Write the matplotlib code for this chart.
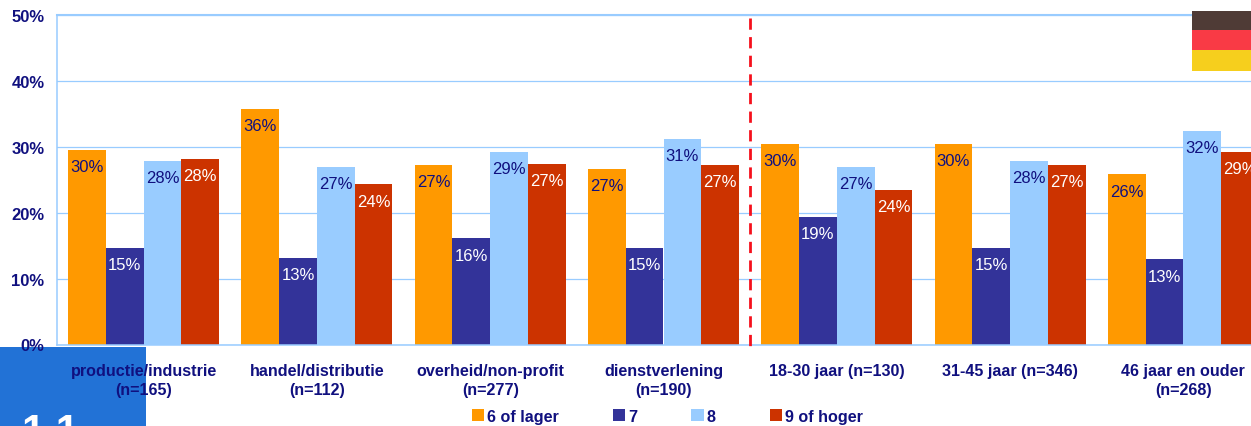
import matplotlib
matplotlib.use('Agg')
import matplotlib.pyplot as plt
from matplotlib.patches import Rectangle
import numpy as np

plt.rcParams['font.family'] = ['Liberation Sans', 'DejaVu Sans']

# Scores per group, in percent
categories = ['productie/industrie\n(n=165)', 'handel/distributie\n(n=112)',
              'overheid/non-profit\n(n=277)', 'dienstverlening\n(n=190)',
              '18-30 jaar (n=130)', '31-45 jaar (n=346)',
              '46 jaar en ouder\n(n=268)']
low = [29.5, 35.7, 27.2, 26.7, 30.4, 30.4, 25.8]
seven = [14.6, 13.2, 16.1, 14.7, 19.3, 14.6, 12.9]
eight = [27.8, 26.9, 29.2, 31.2, 27.0, 27.8, 32.4]
high = [28.1, 24.3, 27.4, 27.2, 23.5, 27.2, 29.2]
series_names = ['6 of lager', '7', '8', '9 of hoger']
y_ticks = [0, 10, 20, 30, 40, 50]

NAVY = '#10107f'
GRID = '#99ccff'
W, H = 1251, 427

fig = plt.figure(figsize=(W / 100, H / 100), dpi=100, facecolor='white')
# the plot area runs a little past the right edge of the slide
ax = fig.add_axes([57 / W, (H - 345.5) / H, 1213 / W, 329.5 / H])

colors = ['#ff9900', '#333399', '#99ccff', '#cc3300']
label_colors = [NAVY, 'white', NAVY, 'white']
bar_w = 0.218
x = np.arange(len(categories)) + 0.5

for i, vals in enumerate([low, seven, eight, high]):
    pos = x + (i - 1.5) * bar_w
    ax.bar(pos, vals, bar_w, color=colors[i], label=series_names[i], zorder=2)
    for p, v in zip(pos, vals):
        ax.annotate(f'{v:.0f}%', (p, v), xytext=(0, -12), textcoords='offset points',
                    ha='center', va='center', fontsize=12, color=label_colors[i],
                    zorder=4, annotation_clip=False)

ax.set_xlim(0, 7)
ax.set_ylim(0, 50)
ax.set_yticks(y_ticks)
ax.set_yticklabels([f'{t}%' for t in y_ticks], fontsize=12, fontweight='bold', color=NAVY)
ax.set_xticks(x)
ax.set_xticklabels(categories, fontsize=11.6, fontweight='bold', color=NAVY, linespacing=1.35)
ax.tick_params(axis='both', length=0)
ax.tick_params(axis='y', pad=9)
ax.tick_params(axis='x', pad=13)
ax.grid(axis='y', color=GRID, lw=0.9, zorder=1)
ax.set_axisbelow(True)
for side in ['left', 'bottom']:
    ax.spines[side].set_color(GRID)
    ax.spines[side].set_linewidth(1.1)
ax.spines['top'].set_color(GRID)
ax.spines['top'].set_linewidth(1.5)
ax.spines['right'].set_visible(False)

# separator between sector groups and age groups, dashes start at the top
ax.plot([4, 4], [49.6, -0.3], color='#f5101c', lw=2, ls=(0, (4.05, 2.65)), zorder=5, clip_on=False)

fig.legend(loc='center', bbox_to_anchor=(667.5 / W, (H - 417.5) / H), ncol=4, frameon=False,
           prop={'size': 11.6, 'weight': 'bold'}, labelcolor=NAVY,
           handlelength=0.75, handleheight=0.75, handletextpad=0.2,
           columnspacing=3.35, borderpad=0, borderaxespad=0)

# slide number tab in the bottom corner
fig.add_artist(Rectangle((0, 0), 146 / W, (H - 348) / H, transform=fig.transFigure,
                         color='#2272d6', lw=0, zorder=-1))
fig.text(21 / W, (H - 444) / H, '1.1', color='white', fontsize=30, fontweight='bold',
         va='baseline', ha='left', zorder=-0.5)

# flag in the top right corner
flag_stripes = [(12, 31, '#4f3b36'), (31, 51, '#f93a45'), (51, 72, '#f6cf1d')]
for top, bottom, c in flag_stripes:
    fig.add_artist(Rectangle((1192 / W, (H - bottom) / H), 59 / W, (bottom - top) / H,
                             transform=fig.transFigure, color=c, lw=0, zorder=5))

fig.savefig('out.png', dpi=100)
